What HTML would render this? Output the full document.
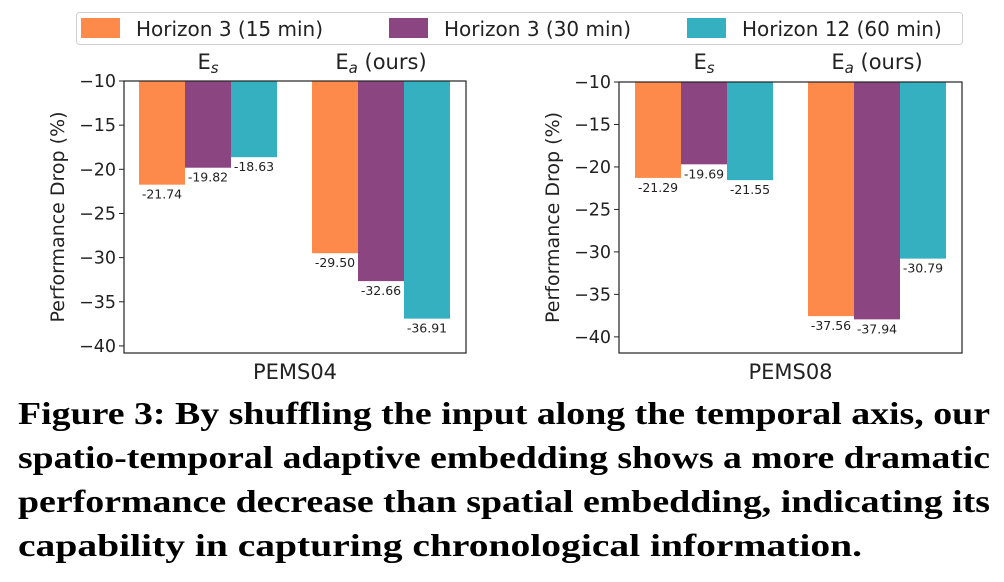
<!DOCTYPE html>
<html><head><meta charset="utf-8"><style>
html,body{margin:0;padding:0;background:#fff;}
svg{display:block;}
</style></head><body>
<svg id="fig" width="1004" height="582" viewBox="0 0 1004 582" xmlns="http://www.w3.org/2000/svg">
<g>
<rect x="76.5" y="12.5" width="886" height="32" rx="3" fill="#fff" stroke="#d0d0d0"/>
<rect x="81" y="18" width="39" height="20" fill="#FD8A4A"/>
<text x="136" y="36" font-family="DejaVu Sans, sans-serif" font-size="20" fill="#222">Horizon 3  (15 min)</text>
<rect x="389" y="18" width="39" height="20" fill="#8B4580"/>
<text x="444" y="36" font-family="DejaVu Sans, sans-serif" font-size="20" fill="#222">Horizon 3  (30 min)</text>
<rect x="687" y="18" width="39" height="20" fill="#34B0C1"/>
<text x="742" y="36" font-family="DejaVu Sans, sans-serif" font-size="20" fill="#222">Horizon 12  (60 min)</text>
</g>
<g id="p1"></g>
<g id="p2"></g>
<g font-family="Liberation Serif, serif" font-weight="bold" font-size="32" fill="#000">
<text x="18" y="424" textLength="972" lengthAdjust="spacingAndGlyphs">Figure 3: By shuffling the input along the temporal axis, our</text>
<text x="18" y="468" textLength="972" lengthAdjust="spacingAndGlyphs">spatio-temporal adaptive embedding shows a more dramatic</text>
<text x="18" y="512" textLength="972" lengthAdjust="spacingAndGlyphs">performance decrease than spatial embedding, indicating its</text>
<text x="18" y="556" textLength="844" lengthAdjust="spacingAndGlyphs">capability in capturing chronological information.</text>
</g>
</svg>
<script>
const groups = ["Es", "Ea"];
const seriesNames = ["15min", "30min", "60min"];
const colors = ["#FD8A4A", "#8B4580", "#34B0C1"];
const pems04Values = [[-21.74, -29.50], [-19.82, -32.66], [-18.63, -36.91]];
const pems08Values = [[-21.29, -37.56], [-19.69, -37.94], [-21.55, -30.79]];
const yTicks = [-10, -15, -20, -25, -30, -35, -40];
const NS = "http://www.w3.org/2000/svg";
function mk(parent, tag, attrs, text){
  const e = document.createElementNS(NS, tag);
  for (const k in attrs) e.setAttribute(k, attrs[k]);
  if (text !== undefined) e.textContent = text;
  parent.appendChild(e); return e;
}
function drawPanel(gid, name, values, L, R, T, B, ymin, centers){
  const g = document.getElementById(gid);
  
  
  const y = v => T + (-10 - v) / (-10 - ymin) * (B - T);
  const bw = 46;
  values.forEach((ser, si) => {
    ser.forEach((v, gi) => {
      const x = centers[gi] + (si - 1) * bw - bw / 2;
      const r = mk(g, 'rect', {x: x, y: T, width: bw, height: y(v) - T, fill: colors[si]});
      
      
      const t = mk(g, 'text', {x: x + bw / 2, y: y(v) + 14, 'text-anchor': 'middle', 'font-family': 'DejaVu Sans, sans-serif', 'font-size': '12.5', fill: '#222'}, v.toFixed(2));
      
      
    });
  });
  const fr = mk(g, 'rect', {x: L, y: T, width: R - L, height: B - T, fill: 'none', stroke: '#222', 'stroke-width': 1.2});
  
  
  yTicks.forEach(tv => {
    const yy = y(tv);
    const tk = mk(g, 'line', {x1: L - 5, x2: L, y1: yy, y2: yy, stroke: '#222'});
    
    
    const tl = mk(g, 'text', {x: L - 8, y: yy + 6, 'text-anchor': 'end', 'font-family': 'DejaVu Sans, sans-serif', 'font-size': '17.5', fill: '#222'}, '\u2212' + Math.abs(tv));
    
    
  });
  const yl = mk(g, 'text', {x: 0, y: 0, transform: 'translate(' + (L - 60) + ',' + ((T + B) / 2) + ') rotate(-90)', 'text-anchor': 'middle', 'font-family': 'DejaVu Sans, sans-serif', 'font-size': '19', fill: '#222'}, 'Performance Drop (%)');
  
  
  const xl = mk(g, 'text', {x: (L + R) / 2, y: 379, 'text-anchor': 'middle', 'font-family': 'DejaVu Sans, sans-serif', 'font-size': '21', fill: '#222'}, name);
  
  
  const subs = ['s', 'a'];
  groups.forEach((gn, gi) => {
    const t = mk(g, 'text', {x: centers[gi], y: 69, 'text-anchor': 'middle', 'font-family': 'DejaVu Sans, sans-serif', 'font-size': '21', fill: '#222'});
    
    
    mk(t, 'tspan', {}, 'E');
    mk(t, 'tspan', {'font-style': 'italic', 'font-size': '15', dy: '4'}, subs[gi]);
    if (gi === 1) mk(t, 'tspan', {dy: '-4'}, ' (ours)');
  });
}
drawPanel('p1', 'PEMS04', pems04Values, 124, 466, 81, 353, -40.8, [208, 381]);
drawPanel('p2', 'PEMS08', pems08Values, 619, 962, 82, 353, -41.9, [704, 877]);
</script>
</body></html>
